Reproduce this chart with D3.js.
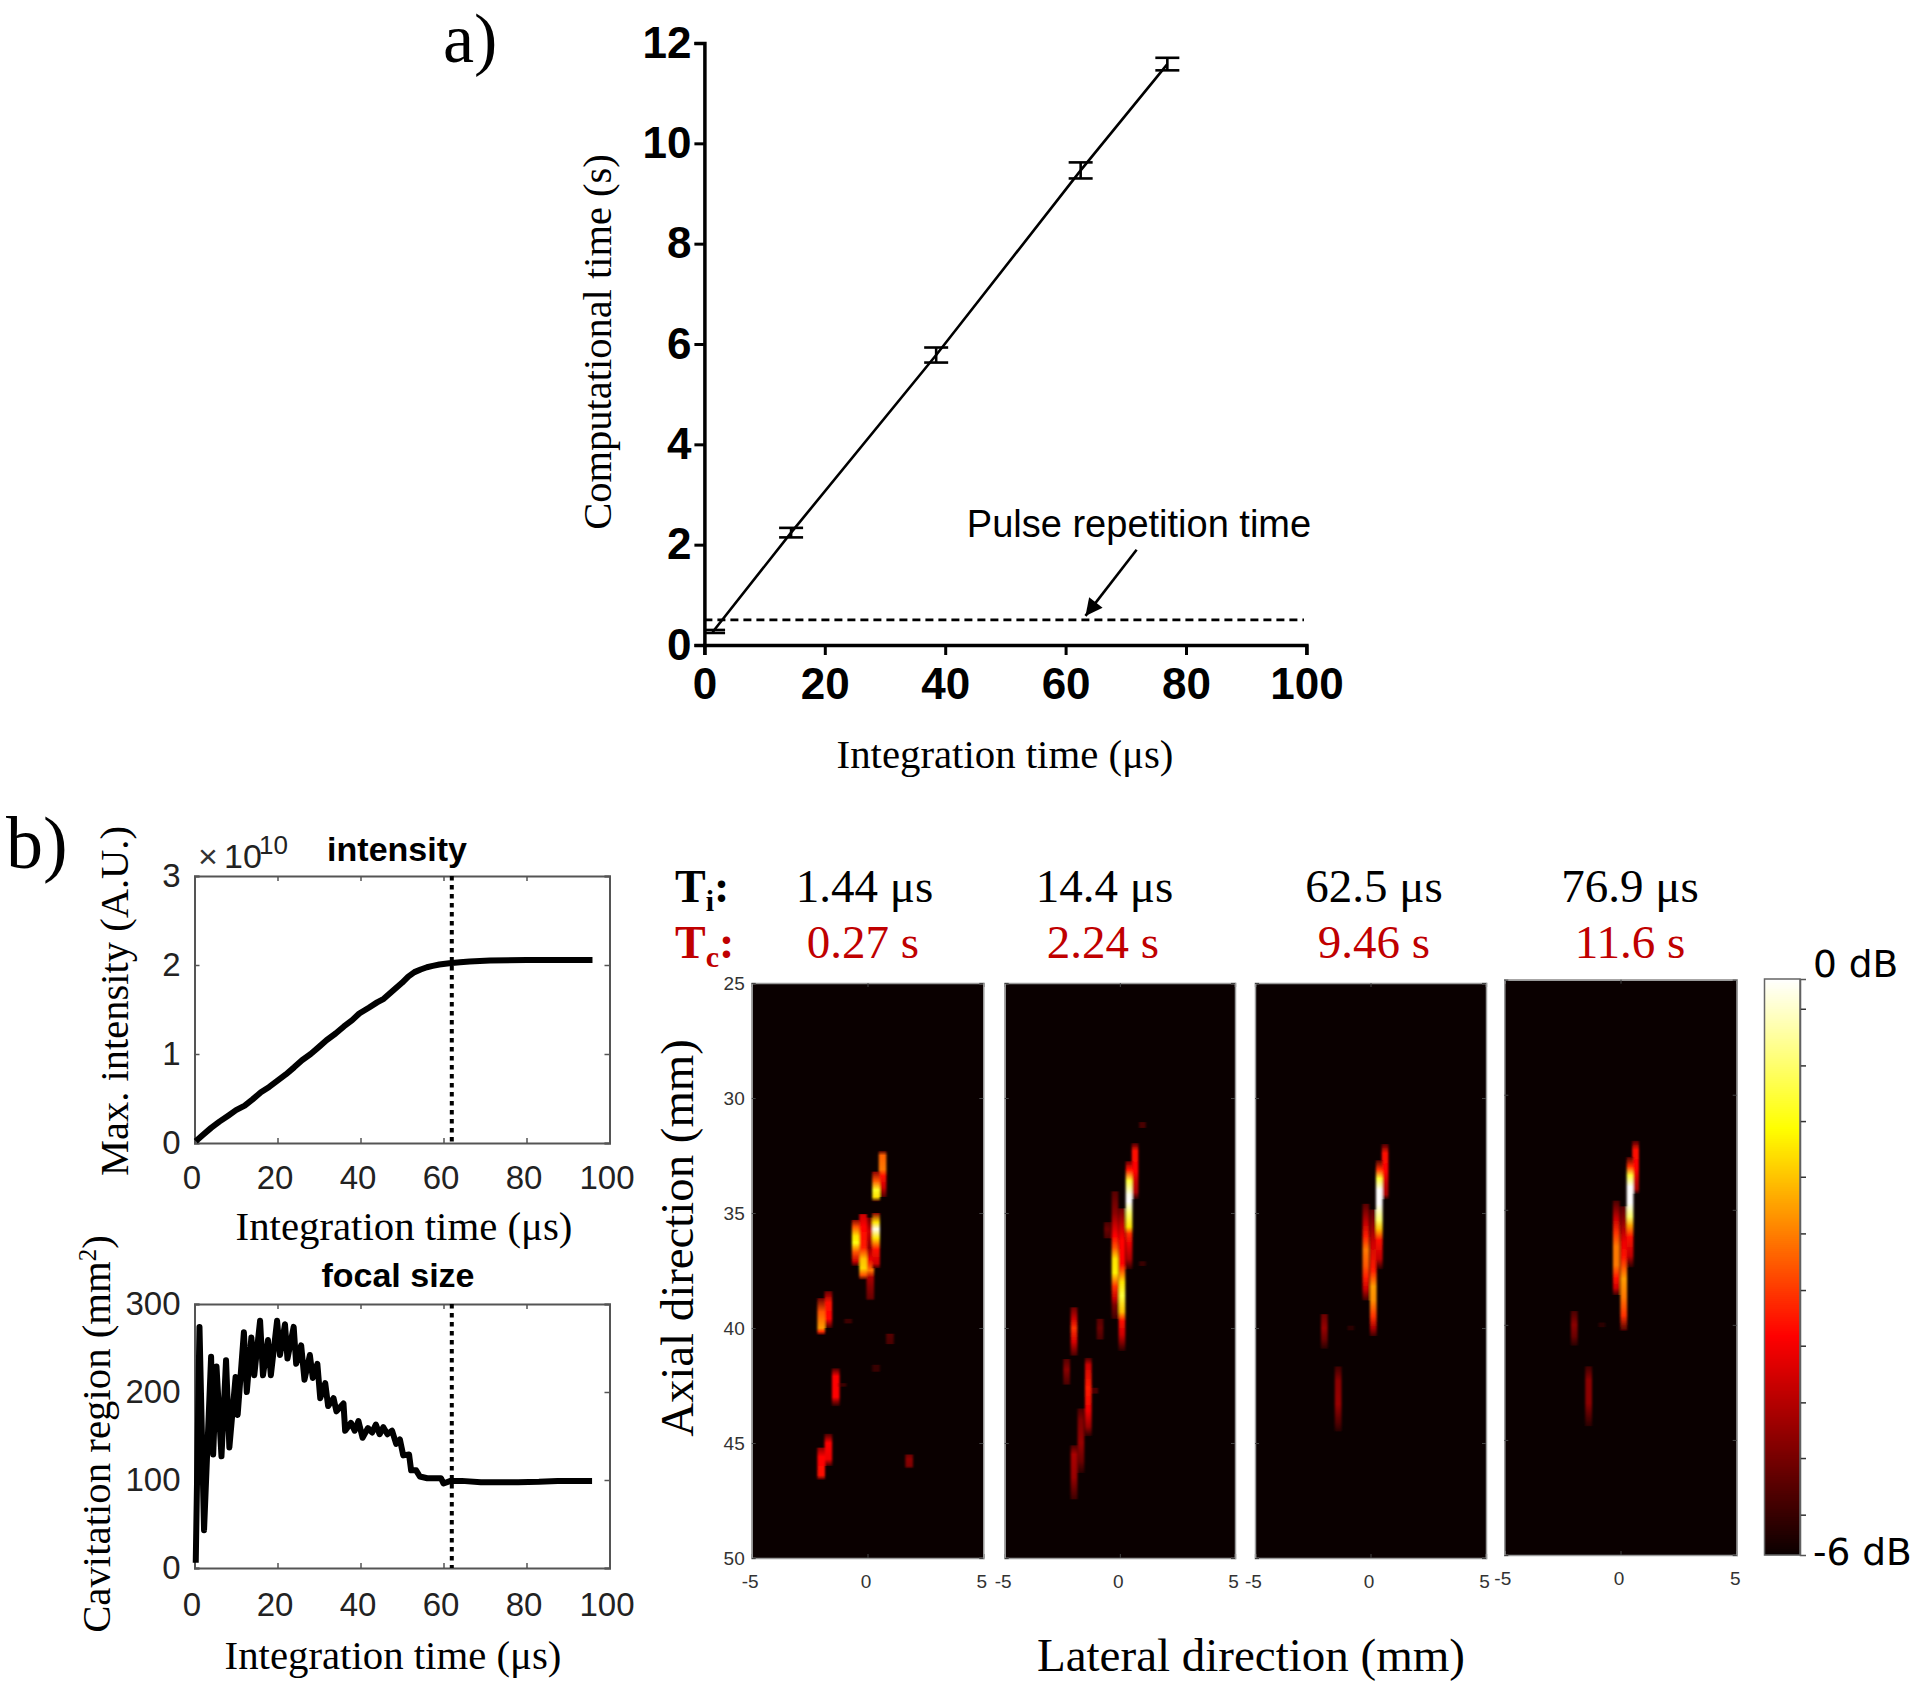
<!DOCTYPE html>
<html><head><meta charset="utf-8">
<script src="https://cdn.jsdelivr.net/npm/d3@7"></script>
<style>
html,body{margin:0;padding:0;background:#fff}
svg{display:block}
</style></head><body>
<svg id="c" width="1920" height="1689"></svg>
<script>
// ---------- panel a ----------
const integrationTimes=[1.44,14.4,38.5,62.5,76.9];
const computationalTimes=[0.27,2.24,5.78,9.46,11.58];
const computationalErrors=[0.03,0.095,0.15,0.16,0.125];
const pulseRepetitionTime=0.5;
const aTicksX=[0,20,40,60,80,100];
const aTicksY=[0,2,4,6,8,10,12];
// ---------- panel b line plots ----------
const intensityT=[0.3,2,4,6,8.2,10,12.1,14,16,18,20,22,24,25.9,28,30,31.8,34,36,38,39.7,42,44,45.6,48,50,51.5,53,54.5,56,57.4,59,61.4,64,66.3,71.2,80,90,95.9];
const intensityV=[0.02,0.09,0.17,0.24,0.31,0.37,0.42,0.49,0.57,0.63,0.70,0.77,0.85,0.93,1.0,1.08,1.155,1.23,1.31,1.38,1.455,1.52,1.58,1.62,1.72,1.80,1.87,1.92,1.95,1.975,1.99,2.005,2.02,2.03,2.04,2.05,2.055,2.055,2.055];
const focalT=[0.3,1.2,2.3,4,4.5,5.3,6.5,7.6,8.4,9.9,10.4,11.9,12.6,13.7,14.4,15.8,16.5,17.7,18.4,19.9,20.6,21.8,22.4,23.9,24.5,25.7,26.5,27.8,28.5,29.6,30.3,31.5,32.2,33.5,34.2,35.9,36.3,37.7,38.6,39.5,40.5,41.8,42.8,43.7,44.6,45.5,46.5,47.6,48.6,49.5,50.3,51.7,52.2,53.4,54.3,56.1,58,59.4,60,61.7,64.4,69,73.6,78,83,87.5,95.8];
const focalV=[6,274,43,240,129,229,127,236,137,217,174,268,200,262,219,281,219,259,219,281,242,277,238,274,232,253,214,242,216,232,193,210,184,193,178,187,156,165,156,167,148,159,154,163,152,160,152,156,141,146,128,129,111,111,104,102,102,102,96,99,99,97.5,97.5,97.5,98,99,99];
const bTicksX=[0,20,40,60,80,100];
const intensityTicks=[0,1,2,3];
const focalTicks=[0,100,200,300];
const focusMarker=62;
// ---------- B-mode panels: [lateral mm, [[axial mm, level 0-1],...]] ----------
const panelTi=["1.44 μs","14.4 μs","62.5 μs","76.9 μs"];
const panelTc=["0.27 s","2.24 s","9.46 s","11.6 s"];
const panel1Blobs=[
 [0.65,[[32.3,.1],[32.5,.52],[33.1,.55],[33.4,.4],[33.9,.3],[34.3,.12]]],
 [0.37,[[33.2,.2],[33.6,.5],[34.0,.78],[34.3,.7],[34.5,.08]]],
 [0.12,[[35.2,.15],[35.8,.3],[36.5,.2],[37,.35],[37.5,.55],[37.8,.25],[38.2,.2],[38.7,.15],[38.8,.05]]],
 [0.37,[[35.0,.2],[35.4,.7],[35.7,.98],[36.1,.7],[36.6,.4],[37.2,.3],[37.4,.08]]],
 [-0.19,[[35.05,.3],[35.6,.38],[36.5,.42],[37,.65],[37.4,.68],[37.7,.5],[37.9,.08]]],
 [-0.51,[[35.3,.2],[35.6,.5],[36.0,.7],[36.3,.75],[36.7,.5],[37.1,.3],[37.3,.08]]],
 [-1.69,[[38.4,.15],[38.9,.4],[39.6,.38],[40,.08]]],
 [-2.0,[[38.7,.15],[39.3,.5],[40,.6],[40.15,.45],[40.3,.08]]],
 [-1.37,[[41.75,.1],[42.1,.38],[43,.38],[43.2,.2],[43.4,.05]]],
 [-1.69,[[44.6,.1],[45,.38],[45.7,.35],[46,.08]]],
 [-2.0,[[45.2,.2],[45.6,.38],[46.4,.4],[46.6,.08]]],
 [1.8,[[45.5,.15],[45.7,.2],[46,.18],[46.1,.05]]],
 [0.97,[[40.25,.12],[40.7,.1]]],
 [-0.83,[[39.6,.08],[39.8,.08]]],
 [0.37,[[41.6,.07],[41.9,.07]]],
 [-1.08,[[42.4,.08],[42.55,.08]]]
];
const panel2Blobs=[
 [0.98,[[31.05,.1],[31.3,.1]]],
 [0.66,[[31.96,.1],[32.3,.4],[33.2,.38],[33.6,.3],[34.1,.25],[34.4,.05]]],
 [0.09,[[34.8,.15],[35.5,.28],[36.2,.38],[37.2,.38],[38,.7],[38.6,.8],[39.3,.65],[39.7,.4],[40.3,.3],[40.6,.2],[41,.05]]],
 [-0.21,[[34.06,.12],[35,.2],[36,.38],[36.5,.5],[37,.7],[37.6,.72],[38.2,.45],[38.7,.3],[39,.18],[39.6,.08]]],
 [0.4,[[32.75,.15],[33.1,.4],[33.6,.8],[34.2,.98],[34.5,1],[35,.85],[35.6,.7],[35.9,.45],[36.3,.35],[37,.25],[37.45,.05]]],
 [-0.54,[[35.4,.1],[35.7,.15],[36.1,.1]]],
 [-1.99,[[39.1,.15],[39.6,.3],[40,.45],[40.6,.32],[41.2,.1]]],
 [-2.31,[[41.35,.12],[41.8,.2],[42.46,.1]]],
 [-0.86,[[39.6,.12],[40,.15],[40.5,.1]]],
 [-1.69,[[43.5,.1],[44,.18],[45,.22],[45.8,.15],[46.3,.05]]],
 [-1.37,[[41.3,.1],[41.6,.3],[42.6,.42],[43.6,.35],[44.3,.22],[44.7,.05]]],
 [-1.99,[[45.1,.1],[45.5,.25],[46.5,.22],[47.45,.08]]],
 [-1.09,[[42.6,.1],[42.85,.1]]],
 [0.98,[[37.1,.07],[37.3,.07]]]
];
const panel3Blobs=[
 [0.63,[[32,.1],[32.4,.4],[33.2,.38],[33.7,.3],[34.2,.25],[34.4,.05]]],
 [-0.2,[[34.6,.12],[35.4,.28],[36,.42],[36.6,.55],[37.3,.5],[37.8,.42],[38.3,.3],[38.8,.08]]],
 [0.12,[[34.85,.12],[35.5,.2],[36.3,.3],[37.5,.42],[38.2,.6],[38.8,.58],[39.5,.45],[40,.25],[40.35,.08]]],
 [0.38,[[32.7,.1],[33.1,.45],[33.5,.8],[34,1],[34.6,1],[35.3,.85],[35.7,.65],[36.2,.4],[37,.28],[37.45,.05]]],
 [-2.0,[[39.4,.15],[40,.22],[40.5,.15],[40.9,.05]]],
 [-1.4,[[41.67,.08],[42.3,.2],[43.3,.22],[44.2,.1],[44.5,.04]]],
 [-0.85,[[39.9,.05],[40.1,.05]]]
];
const panel4Blobs=[
 [0.65,[[32,.1],[32.4,.4],[33.2,.38],[33.7,.3],[34.1,.25],[34.3,.05]]],
 [-0.18,[[34.6,.1],[35.4,.3],[36,.45],[36.6,.55],[37.4,.55],[38,.4],[38.4,.3],[38.7,.08]]],
 [0.14,[[34.85,.12],[35.6,.22],[36.4,.35],[37,.4],[38,.6],[38.8,.55],[39.6,.45],[40.25,.1]]],
 [0.41,[[32.7,.1],[33.1,.45],[33.5,.8],[34,1],[34.7,1],[35.3,.85],[35.7,.6],[36.2,.4],[37,.28],[37.5,.05]]],
 [-1.99,[[39.4,.1],[40,.2],[40.5,.15],[40.9,.05]]],
 [-1.37,[[41.8,.08],[42.4,.2],[43.4,.2],[44.4,.05]]],
 [-0.8,[[39.9,.05],[40.1,.05]]]
];
const panelBlobs=[panel1Blobs,panel2Blobs,panel3Blobs,panel4Blobs];
const lateralTicks=[-5,0,5];
const axialTicks=[25,30,35,40,45,50];
const colorbarTicks=[-5.58,-4.99,-4.41,-3.82,-3.24,-2.65,-2.06,-1.48,-0.9,-0.31];

const svg=d3.select("#c");
const SERIF='"Liberation Serif",serif', SANS='"Liberation Sans",sans-serif';
function txt(g,s,x,y,size,opt={}){
  const t=g.append("text").attr("x",x).attr("y",y).text(s)
   .attr("font-family",opt.fam||SERIF).attr("font-size",size)
   .attr("text-anchor",opt.anchor||"middle").attr("fill",opt.fill||"#000");
  if(opt.weight)t.attr("font-weight",opt.weight);
  if(opt.rot)t.attr("transform",`rotate(${opt.rot} ${x} ${y})`);
  return t;
}
const hot=d3.scaleLinear().domain([0,.38,.74,1]).range(["#0a0000","#ff0000","#ffff00","#ffffff"]).clamp(true);

// ================== panel a ==================
{
 const g=svg.append("g");
 const x=d3.scaleLinear([0,100],[704.4,1306.4]);
 const y=d3.scaleLinear([0,12],[645,43]);
 const ax=d3.axisBottom(x).tickValues(aTicksX).tickSize(10).tickPadding(13).tickFormat(d3.format("d"));
 const ay=d3.axisLeft(y).tickValues(aTicksY).tickSize(10).tickPadding(3).tickFormat(d3.format("d"));
 const gx=g.append("g").attr("transform","translate(0,645)").call(ax);
 const gy=g.append("g").attr("transform","translate(704.4,0)").call(ay);
 [gx,gy].forEach(a=>{a.selectAll("path").attr("stroke","#000").attr("stroke-width",3.5);
   a.selectAll("line").attr("stroke","#000").attr("stroke-width",3);
   a.selectAll("text").attr("font-family",SANS).attr("font-weight","bold").attr("font-size",44).attr("fill","#000");});
 g.append("line").attr("x1",x(0)).attr("x2",x(99.6)).attr("y1",y(pulseRepetitionTime)).attr("y2",y(pulseRepetitionTime))
  .attr("stroke","#000").attr("stroke-width",2.8).attr("stroke-dasharray","8,5");
 const pts=integrationTimes.map((t,i)=>[t,computationalTimes[i],computationalErrors[i]]);
 g.append("path").attr("d",d3.line().x(d=>x(d[0])).y(d=>y(d[1]))(pts)).attr("fill","none").attr("stroke","#000").attr("stroke-width",2.6);
 pts.forEach(d=>{
  const cx=x(d[0]),hi=y(d[1]+d[2]),lo=y(d[1]-d[2]);
  g.append("line").attr("x1",cx).attr("x2",cx).attr("y1",hi).attr("y2",lo).attr("stroke","#000").attr("stroke-width",2.6);
  [hi,lo].forEach(v=>g.append("line").attr("x1",Math.max(cx-12,x(0))).attr("x2",cx+12).attr("y1",v).attr("y2",v).attr("stroke","#000").attr("stroke-width",2.6));
 });
 svg.append("defs").append("marker").attr("id","ah").attr("viewBox","0 0 10 10").attr("refX",10).attr("refY",5)
  .attr("markerWidth",24).attr("markerHeight",17).attr("markerUnits","userSpaceOnUse").attr("orient","auto")
  .append("path").attr("d","M0,0L10,5L0,10Z").attr("fill","#000");
 g.append("line").attr("x1",x(71.8)).attr("y1",y(1.9)).attr("x2",x(63.3)).attr("y2",y(0.58))
  .attr("stroke","#000").attr("stroke-width",2.6).attr("marker-end","url(#ah)");
 txt(g,"Pulse repetition time",1139,537,38,{fam:SANS});
 txt(g,"Integration time (μs)",1005,768,40.8);
 txt(g,"Computational time (s)",611,342,40.5,{rot:-90});
 txt(g,"a)",443,62,70,{anchor:"start"});
 txt(g,"b)",6,868,74,{anchor:"start"});
}

// ================== panel b line plots ==================
function linePlot(top,bottom,yDomain,yTicks,xs,ys,xLabelX,xLabelY,xPad){
 const g=svg.append("g");
 const x=d3.scaleLinear([0,100],[194.5,609.5]);
 const y=d3.scaleLinear(yDomain,[bottom,top]);
 const mk=(axis,tr,lab)=>{
  const a=g.append("g").attr("transform",tr).call(axis);
  a.selectAll("path").attr("stroke","#555").attr("stroke-width",2);
  a.selectAll("line").attr("stroke","#555").attr("stroke-width",1.5);
  a.selectAll("text").attr("font-family",SANS).attr("font-size",33).attr("fill","#222");
  if(!lab)a.selectAll("text").remove();
  return a;
 };
 mk(d3.axisBottom(x).tickValues(bTicksX).tickSize(-5).tickPadding(xPad).tickFormat(d3.format("d")),`translate(0,${bottom})`,true)
   .selectAll("text").attr("dx",-3);
 mk(d3.axisTop(x).tickValues(bTicksX).tickSize(-5),`translate(0,${top})`,false);
 mk(d3.axisLeft(y).tickValues(yTicks).tickSize(-5).tickPadding(14).tickFormat(d3.format("d")),`translate(194.5,0)`,true);
 mk(d3.axisRight(y).tickValues(yTicks).tickSize(-5),`translate(609.5,0)`,false);
 g.append("line").attr("x1",x(focusMarker)).attr("x2",x(focusMarker)).attr("y1",top).attr("y2",bottom)
  .attr("stroke","#000").attr("stroke-width",4).attr("stroke-dasharray","4.5,4.5");
 g.append("path").attr("d",d3.line().x((d,i)=>x(xs[i])).y((d,i)=>y(ys[i]))(xs))
  .attr("fill","none").attr("stroke","#000").attr("stroke-width",6).attr("stroke-linejoin","round");
 txt(g,"Integration time (μs)",xLabelX,xLabelY,40.8);
 return g;
}
const g1=linePlot(876,1143,[0,3],intensityTicks,intensityT,intensityV,404,1240,23);
txt(g1,"intensity",397,861,34,{fam:SANS,weight:"bold"});
txt(g1,"Max. intensity (A.U.)",128,1001,40.5,{rot:-90});
txt(g1,"×",208,868,34,{fam:SANS,fill:"#333"});
txt(g1,"10",224,868,34,{fam:SANS,anchor:"start",fill:"#222"});
txt(g1,"10",259,854,26,{fam:SANS,anchor:"start",fill:"#222"});
const g2=linePlot(1304,1568,[0,300],focalTicks,focalT,focalV,393,1669,25);
txt(g2,"focal size",398,1287,34,{fam:SANS,weight:"bold"});
const cav=txt(g2,"Cavitation region (mm",110,1434,40.8,{rot:-90});
cav.append("tspan").text("2").attr("dy",-14).attr("font-size",25);
cav.append("tspan").text(")").attr("dy",14);

// ================== B-mode panels ==================
const panelBoxes=[[751.7,983.3,983,1558],[1004.7,1235,983,1558],[1255,1486,983,1558],[1504.3,1736.7,979.7,1555]];
const defs=svg.select("defs");
defs.append("filter").attr("id","soft").attr("x","-30%").attr("y","-10%").attr("width","160%").attr("height","120%")
  .append("feGaussianBlur").attr("stdDeviation","0.9 0.5");
panelBoxes.forEach((b,pi)=>{
 const [l,r,t,bt]=b;
 const g=svg.append("g");
 const x=d3.scaleLinear([-5,5],[l,r]);
 const y=d3.scaleLinear([25,50],[t,bt]);
 defs.append("clipPath").attr("id","cp"+pi).append("rect").attr("x",l).attr("y",t).attr("width",r-l).attr("height",bt-t);
 g.append("rect").attr("x",l).attr("y",t).attr("width",r-l).attr("height",bt-t).attr("fill","#0a0000");
 const inner=g.append("g").attr("clip-path",`url(#cp${pi})`).append("g").attr("filter","url(#soft)");
 const colW=(pi===0?0.33:0.29)*(r-l)/10;
 panelBlobs[pi].forEach((blob,bi)=>{
  const [lat,st]=blob;
  const y0=y(st[0][0]),y1=y(st[st.length-1][0]);
  const id=`gr${pi}_${bi}`;
  const gr=defs.append("linearGradient").attr("id",id).attr("gradientUnits","userSpaceOnUse")
    .attr("x1",0).attr("x2",0).attr("y1",y0).attr("y2",y1);
  st.forEach(s=>gr.append("stop").attr("offset",(y(s[0])-y0)/(y1-y0)).attr("stop-color",hot(s[1])));
  inner.append("rect").attr("x",x(lat)-colW/2).attr("y",y0).attr("width",colW).attr("height",y1-y0).attr("fill",`url(#${id})`);
 });
 const mk=(axis,tr,lab)=>{
  const a=g.append("g").attr("transform",tr).call(axis);
  a.selectAll("path").attr("stroke","#9a9a9a").attr("stroke-width",1.5);
  a.selectAll("line").attr("stroke","#444").attr("stroke-width",1);
  a.selectAll("text").attr("font-family",SANS).attr("font-size",19).attr("fill","#333");
  if(!lab)a.selectAll("text").remove();
  return a;
 };
 mk(d3.axisBottom(x).tickValues(lateralTicks).tickSize(-4).tickPadding(17).tickFormat(d=>d<0?"-"+(-d):d),`translate(0,${bt})`,true)
   .selectAll("text").attr("dx",-2);
 mk(d3.axisTop(x).tickValues(lateralTicks).tickSize(-4),`translate(0,${t})`,false);
 mk(d3.axisLeft(y).tickValues(axialTicks).tickSize(-4).tickPadding(7),`translate(${l},0)`,pi===0);
 mk(d3.axisRight(y).tickValues(axialTicks).tickSize(-4),`translate(${r},0)`,false);
 const cx=[864.5,1104.5,1374,1630][pi], cy=[863,1103,1374,1630][pi];
 txt(svg,panelTi[pi],cx,902,47);
 txt(svg,panelTc[pi],cy,958,47,{fill:"#c00000"});
});
const ti=txt(svg,"T",675,902,46,{anchor:"start",weight:"bold"});
ti.append("tspan").text("i").attr("dy",9).attr("font-size",30);
ti.append("tspan").text(":").attr("dy",-9);
const tc=txt(svg,"T",675,958,46,{anchor:"start",weight:"bold",fill:"#c00000"});
tc.append("tspan").text("c").attr("dy",9).attr("font-size",30);
tc.append("tspan").text(":").attr("dy",-9);
txt(svg,"Axial direction (mm)",693,1238,46.8,{rot:-90});
txt(svg,"Lateral direction (mm)",1251,1671,47);

// ================== colour bar ==================
{
 const g=svg.append("g");
 const yc=d3.scaleLinear([-6,0],[1555,979]);
 const levels=d3.range(0,288).map(i=>i/288);
 g.selectAll("rect").data(levels).join("rect")
  .attr("x",1764.5).attr("width",35.5)
  .attr("y",d=>yc(-6+6*(d+1/288))).attr("height",2.2)
  .attr("fill",d=>hot(d+0.5/288));
 const a=g.append("g").attr("transform","translate(1800,0)")
  .call(d3.axisLeft(yc).tickValues(colorbarTicks).tickSize(-6).tickFormat(""));
 a.selectAll("line").attr("stroke","#333").attr("stroke-width",1.5);
 a.select("path").attr("stroke","#555").attr("stroke-width",1.5);
 g.append("rect").attr("x",1764.5).attr("y",979).attr("width",35.5).attr("height",576).attr("fill","none").attr("stroke","#666").attr("stroke-width",1.5);
 const DV='"DejaVu Sans",sans-serif';
 txt(g,"0 dB",1813,977,37.5,{fam:DV,anchor:"start"});
 txt(g,"-6 dB",1813,1565,37.5,{fam:DV,anchor:"start"});
}
</script>
</body></html>
